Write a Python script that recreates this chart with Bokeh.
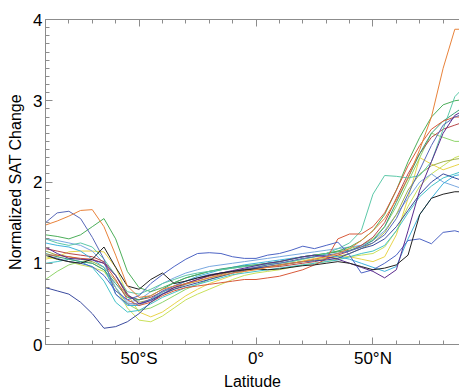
from bokeh.plotting import figure
from bokeh.models import FixedTicker, LinearAxis, Range1d
from bokeh.embed import file_html
from bokeh.resources import INLINE

# ---------------- data ----------------
latitude = [-90, -85, -80, -75, -70, -65, -60, -55, -50, -45, -40, -35, -30,
            -25, -20, -15, -10, -5, 0, 5, 10, 15, 20, 25, 30, 35, 40, 45, 50,
            55, 60, 65, 70, 75, 80, 85, 90]

model_01 = [1.47, 1.52, 1.58, 1.65, 1.66, 1.45, 1.10, 0.72, 0.58, 0.60, 0.68, 0.72, 0.75,
            0.78, 0.82, 0.85, 0.88, 0.90, 0.92, 0.95, 0.98, 1.00, 1.02, 1.05, 1.08, 1.12,
            1.18, 1.28, 1.40, 1.55, 1.78, 2.05, 2.40, 2.80, 3.40, 3.88, 3.88]
model_02 = [1.30, 1.25, 1.22, 1.25, 1.20, 1.05, 0.85, 0.65, 0.62, 0.68, 0.75, 0.80, 0.85,
            0.88, 0.90, 0.92, 0.94, 0.96, 0.97, 0.99, 1.00, 1.02, 1.05, 1.08, 1.12, 1.18,
            1.25, 1.40, 1.85, 2.08, 2.07, 2.05, 2.08, 2.25, 2.65, 3.05, 3.20]
model_03 = [1.10, 1.06, 1.02, 1.00, 0.96, 0.85, 0.66, 0.55, 0.60, 0.75, 0.86, 0.96, 1.05,
            1.12, 1.13, 1.12, 1.08, 1.06, 1.06, 1.10, 1.12, 1.16, 1.21, 1.18, 1.22, 1.26,
            1.10, 0.88, 0.92, 1.00, 1.10, 1.28, 1.30, 1.24, 1.38, 1.40, 1.36]
model_04 = [0.70, 0.66, 0.62, 0.52, 0.38, 0.20, 0.22, 0.28, 0.38, 0.52, 0.62, 0.68, 0.72,
            0.76, 0.80, 0.84, 0.88, 0.91, 0.94, 0.96, 0.98, 1.00, 1.02, 1.03, 1.04, 1.06,
            1.12, 1.18, 1.22, 1.30, 1.45, 1.65, 1.85, 2.00, 2.10, 2.05, 2.00]
model_05 = [1.50, 1.62, 1.64, 1.55, 1.32, 1.05, 0.62, 0.50, 0.50, 0.56, 0.66, 0.72, 0.78,
            0.82, 0.86, 0.88, 0.90, 0.93, 0.95, 0.98, 1.00, 1.03, 1.06, 1.08, 1.10, 1.12,
            1.15, 1.20, 1.25, 1.35, 1.55, 1.85, 2.15, 2.45, 2.70, 2.80, 2.85]
model_06 = [1.20, 1.12, 1.06, 1.05, 1.04, 1.00, 0.85, 0.62, 0.50, 0.54, 0.62, 0.70, 0.75,
            0.80, 0.85, 0.88, 0.91, 0.94, 0.97, 1.00, 1.02, 1.05, 1.08, 1.10, 1.08, 1.05,
            1.00, 0.95, 0.90, 0.82, 0.92, 1.40, 1.90, 2.25, 2.60, 2.82, 2.90]
model_07 = [1.10, 1.05, 1.02, 1.00, 1.05, 1.20, 0.95, 0.72, 0.68, 0.80, 0.88, 0.75, 0.78,
            0.82, 0.85, 0.88, 0.90, 0.92, 0.93, 0.92, 0.93, 0.95, 0.97, 0.98, 1.00, 1.02,
            1.00, 0.96, 0.92, 0.94, 0.98, 1.10, 1.60, 1.80, 1.85, 1.88, 1.88]
model_08 = [1.05, 1.08, 1.14, 1.15, 1.15, 1.14, 0.95, 0.62, 0.40, 0.34, 0.40, 0.50, 0.60,
            0.68, 0.75, 0.80, 0.85, 0.90, 0.93, 0.95, 0.97, 1.00, 1.03, 1.06, 1.08, 1.10,
            1.08, 1.05, 1.02, 1.08, 1.35, 1.80, 2.30, 2.22, 2.15, 2.20, 2.25]
model_09 = [0.80, 0.90, 0.98, 1.02, 1.00, 0.92, 0.70, 0.50, 0.42, 0.45, 0.52, 0.60, 0.68,
            0.74, 0.80, 0.84, 0.88, 0.92, 0.95, 0.98, 1.00, 1.02, 1.05, 1.08, 1.12, 1.15,
            1.18, 1.22, 1.30, 1.45, 1.70, 2.00, 2.30, 2.60, 2.55, 2.50, 2.50]
model_10 = [1.35, 1.33, 1.30, 1.35, 1.45, 1.55, 1.30, 0.90, 0.70, 0.65, 0.70, 0.76, 0.82,
            0.86, 0.90, 0.92, 0.94, 0.96, 0.98, 1.00, 1.02, 1.05, 1.08, 1.10, 1.12, 1.15,
            1.20, 1.28, 1.40, 1.60, 1.90, 2.25, 2.55, 2.80, 2.95, 3.00, 3.02]
model_11 = [1.25, 1.22, 1.20, 1.15, 1.05, 0.95, 0.62, 0.48, 0.48, 0.55, 0.64, 0.72, 0.78,
            0.84, 0.88, 0.92, 0.95, 0.98, 1.00, 1.02, 1.04, 1.06, 1.08, 1.10, 1.10, 1.08,
            1.05, 1.00, 0.95, 0.90, 0.96, 1.30, 1.60, 1.80, 1.98, 2.08, 2.10]
model_12 = [1.10, 1.10, 1.08, 1.06, 1.05, 1.00, 0.80, 0.55, 0.48, 0.52, 0.60, 0.66, 0.70,
            0.72, 0.74, 0.76, 0.78, 0.80, 0.80, 0.82, 0.84, 0.88, 0.92, 0.98, 1.05, 1.30,
            1.36, 1.36, 1.45, 1.62, 1.90, 2.20, 2.45, 2.65, 2.75, 2.80, 2.80]
model_13 = [1.15, 1.10, 1.08, 1.05, 1.02, 0.95, 0.78, 0.60, 0.52, 0.55, 0.62, 0.68, 0.74,
            0.78, 0.82, 0.86, 0.90, 0.92, 0.94, 0.96, 0.98, 1.00, 1.02, 1.04, 1.06, 1.08,
            1.12, 1.18, 1.25, 1.38, 1.60, 1.90, 2.10, 2.20, 2.25, 2.28, 2.30]
model_14 = [1.30, 1.28, 1.25, 1.22, 1.15, 1.00, 0.70, 0.52, 0.55, 0.65, 0.75, 0.82, 0.88,
            0.92, 0.96, 0.98, 1.00, 1.02, 1.04, 1.06, 1.08, 1.10, 1.12, 1.14, 1.16, 1.18,
            1.20, 1.22, 1.28, 1.40, 1.60, 1.80, 2.00, 2.10, 2.00, 1.95, 1.90]
model_15 = [1.12, 1.08, 1.05, 1.02, 1.00, 0.92, 0.75, 0.58, 0.55, 0.60, 0.68, 0.76, 0.82,
            0.86, 0.90, 0.93, 0.95, 0.97, 0.98, 1.00, 1.02, 1.05, 1.08, 1.10, 1.12, 1.14,
            1.16, 1.20, 1.28, 1.45, 1.75, 2.05, 2.35, 2.60, 2.75, 2.85, 2.95]
model_16 = [1.00, 1.02, 1.05, 1.02, 0.95, 0.78, 0.52, 0.40, 0.42, 0.50, 0.58, 0.64, 0.70,
            0.74, 0.78, 0.82, 0.86, 0.88, 0.90, 0.92, 0.94, 0.96, 0.98, 1.00, 1.02, 1.04,
            1.08, 1.12, 1.15, 1.22, 1.40, 1.62, 1.82, 1.95, 2.05, 2.10, 2.15]
model_17 = [1.08, 1.05, 1.02, 0.98, 0.95, 0.90, 0.70, 0.45, 0.30, 0.28, 0.35, 0.45, 0.55,
            0.62, 0.68, 0.74, 0.80, 0.85, 0.88, 0.90, 0.92, 0.95, 0.98, 1.00, 1.02, 1.05,
            1.08, 1.10, 1.12, 1.20, 1.40, 1.70, 1.95, 2.10, 2.20, 2.30, 2.35]
model_18 = [1.18, 1.15, 1.12, 1.10, 1.08, 1.02, 0.85, 0.60, 0.55, 0.58, 0.65, 0.70, 0.75,
            0.80, 0.84, 0.87, 0.90, 0.92, 0.94, 0.95, 0.96, 0.98, 1.00, 1.02, 1.05, 1.10,
            1.15, 1.22, 1.32, 1.50, 1.80, 2.10, 2.35, 2.55, 2.65, 2.70, 2.75]

x_tick_values = [-50, 0, 50]
x_tick_labels = ["50°S", "0°", "50°N"]
x_minor_ticks = [-90, -80, -70, -60, -50, -40, -30, -20, -10, 0, 10, 20, 30, 40, 50, 60, 70, 80, 90]
y_tick_values = [0, 1, 2, 3, 4]
y_minor_ticks = [i / 10 for i in range(0, 41)]

x_title = "Latitude"
y_title = "Normalized SAT Change"

# ---------------- styles ----------------
series = [model_01, model_02, model_03, model_04, model_05, model_06, model_07, model_08,
          model_09, model_10, model_11, model_12, model_13, model_14, model_15, model_16,
          model_17, model_18]
colors = ["#e8823a", "#5cc8a8", "#4d64c4", "#3a4a9e", "#5868b8", "#5b2c8f", "#222222",
          "#e8d44a", "#8fd46a", "#4cae5a", "#3fb2dc", "#d85a3a", "#9fb04a", "#79a8e0",
          "#3c9e7a", "#45c2c8", "#c9e05a", "#b8474a"]

FONT = "Liberation Sans"
AXIS_COLOR = "#8c8c8c"

p = figure(width=459, height=392, output_backend="svg", toolbar_location=None,
           x_range=Range1d(-90, 87), y_range=Range1d(0, 4),
           min_border_left=45, min_border_right=0, min_border_top=19, min_border_bottom=43)
p.grid.visible = False
p.outline_line_color = None
p.background_fill_color = "white"
p.border_fill_color = "white"

order = [7, 16, 8, 13, 12, 17, 15, 10, 14, 9, 1, 11, 4, 2, 3, 5, 6, 0]
for i in order:
    p.line(latitude, series[i], line_color=colors[i], line_width=1)

xt = FixedTicker(ticks=x_tick_values, minor_ticks=x_minor_ticks)
yt = FixedTicker(ticks=y_tick_values, minor_ticks=y_minor_ticks)

def style_axis(ax):
    ax.axis_line_color = AXIS_COLOR
    ax.major_tick_line_color = AXIS_COLOR
    ax.minor_tick_line_color = AXIS_COLOR
    ax.major_tick_in = 7
    ax.major_tick_out = 0
    ax.minor_tick_in = 4
    ax.minor_tick_out = 0
    ax.major_label_text_font = FONT
    ax.major_label_text_font_size = "17px"
    ax.major_label_text_color = "black"

xa = p.xaxis[0]
xa.ticker = xt
xa.major_label_overrides = {v: s for v, s in zip(x_tick_values, x_tick_labels)}
xa.major_label_standoff = 4
style_axis(xa)
xa.axis_label = x_title
xa.axis_label_text_font = FONT
xa.axis_label_text_font_size = "16px"
xa.axis_label_text_font_style = "normal"
xa.axis_label_text_color = "black"
xa.axis_label_standoff = 2

ya = p.yaxis[0]
ya.ticker = yt
ya.major_label_standoff = 3
style_axis(ya)
ya.axis_label = y_title
ya.axis_label_text_font = FONT
ya.axis_label_text_font_size = "16px"
ya.axis_label_text_font_style = "normal"
ya.axis_label_text_color = "black"
ya.axis_label_standoff = 6

top = LinearAxis(ticker=xt, major_label_overrides={v: "" for v in x_tick_values})
style_axis(top)
top.major_label_text_font_size = "1px"
top.major_label_standoff = 0
p.add_layout(top, "above")

open("out.html", "w").write(file_html(p, INLINE))
